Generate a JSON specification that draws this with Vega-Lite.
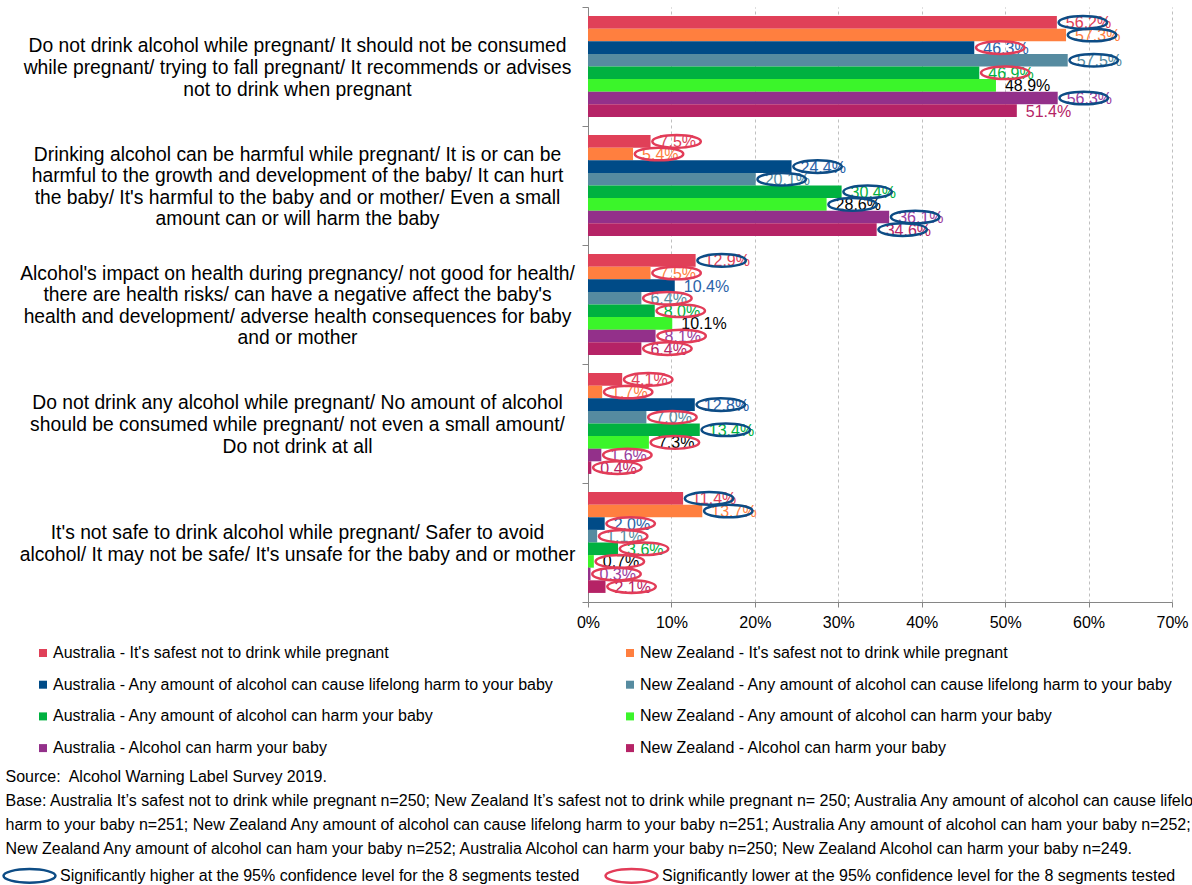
{
  "$schema": "https://vega.github.io/schema/vega-lite/v6.json",
  "width": 584,
  "height": 595,
  "autosize": {"type": "none"},
  "padding": {"left": 588, "top": 7, "right": 20, "bottom": 283},
  "background": "white",
  "config": {"view": {"stroke": null}, "font": "Liberation Sans"},
  "data": {
    "values": [
      {"theme": "Do not drink alcohol while pregnant/ It should not be consumed|while pregnant/ trying to fall pregnant/ It recommends or advises|not to drink when pregnant", "series": "Australia - It's safest not to drink while pregnant", "value": 0.562, "sig": "higher"},
      {"theme": "Do not drink alcohol while pregnant/ It should not be consumed|while pregnant/ trying to fall pregnant/ It recommends or advises|not to drink when pregnant", "series": "New Zealand - It's safest not to drink while pregnant", "value": 0.573, "sig": "higher"},
      {"theme": "Do not drink alcohol while pregnant/ It should not be consumed|while pregnant/ trying to fall pregnant/ It recommends or advises|not to drink when pregnant", "series": "Australia - Any amount of alcohol can cause lifelong harm to your baby", "value": 0.463, "sig": "lower"},
      {"theme": "Do not drink alcohol while pregnant/ It should not be consumed|while pregnant/ trying to fall pregnant/ It recommends or advises|not to drink when pregnant", "series": "New Zealand - Any amount of alcohol can cause lifelong harm to your baby", "value": 0.575, "sig": "higher"},
      {"theme": "Do not drink alcohol while pregnant/ It should not be consumed|while pregnant/ trying to fall pregnant/ It recommends or advises|not to drink when pregnant", "series": "Australia - Any amount of alcohol can harm your baby", "value": 0.469, "sig": "lower"},
      {"theme": "Do not drink alcohol while pregnant/ It should not be consumed|while pregnant/ trying to fall pregnant/ It recommends or advises|not to drink when pregnant", "series": "New Zealand - Any amount of alcohol can harm your baby", "value": 0.489, "sig": "none"},
      {"theme": "Do not drink alcohol while pregnant/ It should not be consumed|while pregnant/ trying to fall pregnant/ It recommends or advises|not to drink when pregnant", "series": "Australia - Alcohol can harm your baby", "value": 0.563, "sig": "higher"},
      {"theme": "Do not drink alcohol while pregnant/ It should not be consumed|while pregnant/ trying to fall pregnant/ It recommends or advises|not to drink when pregnant", "series": "New Zealand - Alcohol can harm your baby", "value": 0.514, "sig": "none"},

      {"theme": "Drinking alcohol can be harmful while pregnant/ It is or can be|harmful to the growth and development of the baby/ It can hurt|the baby/ It's harmful to the baby and or mother/ Even a small|amount can or will harm the baby", "series": "Australia - It's safest not to drink while pregnant", "value": 0.075, "sig": "lower"},
      {"theme": "Drinking alcohol can be harmful while pregnant/ It is or can be|harmful to the growth and development of the baby/ It can hurt|the baby/ It's harmful to the baby and or mother/ Even a small|amount can or will harm the baby", "series": "New Zealand - It's safest not to drink while pregnant", "value": 0.054, "sig": "lower"},
      {"theme": "Drinking alcohol can be harmful while pregnant/ It is or can be|harmful to the growth and development of the baby/ It can hurt|the baby/ It's harmful to the baby and or mother/ Even a small|amount can or will harm the baby", "series": "Australia - Any amount of alcohol can cause lifelong harm to your baby", "value": 0.244, "sig": "higher"},
      {"theme": "Drinking alcohol can be harmful while pregnant/ It is or can be|harmful to the growth and development of the baby/ It can hurt|the baby/ It's harmful to the baby and or mother/ Even a small|amount can or will harm the baby", "series": "New Zealand - Any amount of alcohol can cause lifelong harm to your baby", "value": 0.201, "sig": "higher"},
      {"theme": "Drinking alcohol can be harmful while pregnant/ It is or can be|harmful to the growth and development of the baby/ It can hurt|the baby/ It's harmful to the baby and or mother/ Even a small|amount can or will harm the baby", "series": "Australia - Any amount of alcohol can harm your baby", "value": 0.304, "sig": "higher"},
      {"theme": "Drinking alcohol can be harmful while pregnant/ It is or can be|harmful to the growth and development of the baby/ It can hurt|the baby/ It's harmful to the baby and or mother/ Even a small|amount can or will harm the baby", "series": "New Zealand - Any amount of alcohol can harm your baby", "value": 0.286, "sig": "higher"},
      {"theme": "Drinking alcohol can be harmful while pregnant/ It is or can be|harmful to the growth and development of the baby/ It can hurt|the baby/ It's harmful to the baby and or mother/ Even a small|amount can or will harm the baby", "series": "Australia - Alcohol can harm your baby", "value": 0.361, "sig": "higher"},
      {"theme": "Drinking alcohol can be harmful while pregnant/ It is or can be|harmful to the growth and development of the baby/ It can hurt|the baby/ It's harmful to the baby and or mother/ Even a small|amount can or will harm the baby", "series": "New Zealand - Alcohol can harm your baby", "value": 0.346, "sig": "higher"},

      {"theme": "Alcohol's impact on health during pregnancy/ not good for health/|there are health risks/ can have a negative affect the baby's|health and development/ adverse health consequences for baby|and or mother", "series": "Australia - It's safest not to drink while pregnant", "value": 0.129, "sig": "higher"},
      {"theme": "Alcohol's impact on health during pregnancy/ not good for health/|there are health risks/ can have a negative affect the baby's|health and development/ adverse health consequences for baby|and or mother", "series": "New Zealand - It's safest not to drink while pregnant", "value": 0.075, "sig": "lower"},
      {"theme": "Alcohol's impact on health during pregnancy/ not good for health/|there are health risks/ can have a negative affect the baby's|health and development/ adverse health consequences for baby|and or mother", "series": "Australia - Any amount of alcohol can cause lifelong harm to your baby", "value": 0.104, "sig": "none"},
      {"theme": "Alcohol's impact on health during pregnancy/ not good for health/|there are health risks/ can have a negative affect the baby's|health and development/ adverse health consequences for baby|and or mother", "series": "New Zealand - Any amount of alcohol can cause lifelong harm to your baby", "value": 0.064, "sig": "lower"},
      {"theme": "Alcohol's impact on health during pregnancy/ not good for health/|there are health risks/ can have a negative affect the baby's|health and development/ adverse health consequences for baby|and or mother", "series": "Australia - Any amount of alcohol can harm your baby", "value": 0.080, "sig": "lower"},
      {"theme": "Alcohol's impact on health during pregnancy/ not good for health/|there are health risks/ can have a negative affect the baby's|health and development/ adverse health consequences for baby|and or mother", "series": "New Zealand - Any amount of alcohol can harm your baby", "value": 0.101, "sig": "none"},
      {"theme": "Alcohol's impact on health during pregnancy/ not good for health/|there are health risks/ can have a negative affect the baby's|health and development/ adverse health consequences for baby|and or mother", "series": "Australia - Alcohol can harm your baby", "value": 0.081, "sig": "lower"},
      {"theme": "Alcohol's impact on health during pregnancy/ not good for health/|there are health risks/ can have a negative affect the baby's|health and development/ adverse health consequences for baby|and or mother", "series": "New Zealand - Alcohol can harm your baby", "value": 0.064, "sig": "lower"},

      {"theme": "Do not drink any alcohol while pregnant/ No amount of alcohol|should be consumed while pregnant/ not even a small amount/|Do not drink at all", "series": "Australia - It's safest not to drink while pregnant", "value": 0.041, "sig": "lower"},
      {"theme": "Do not drink any alcohol while pregnant/ No amount of alcohol|should be consumed while pregnant/ not even a small amount/|Do not drink at all", "series": "New Zealand - It's safest not to drink while pregnant", "value": 0.017, "sig": "lower"},
      {"theme": "Do not drink any alcohol while pregnant/ No amount of alcohol|should be consumed while pregnant/ not even a small amount/|Do not drink at all", "series": "Australia - Any amount of alcohol can cause lifelong harm to your baby", "value": 0.128, "sig": "higher"},
      {"theme": "Do not drink any alcohol while pregnant/ No amount of alcohol|should be consumed while pregnant/ not even a small amount/|Do not drink at all", "series": "New Zealand - Any amount of alcohol can cause lifelong harm to your baby", "value": 0.070, "sig": "lower"},
      {"theme": "Do not drink any alcohol while pregnant/ No amount of alcohol|should be consumed while pregnant/ not even a small amount/|Do not drink at all", "series": "Australia - Any amount of alcohol can harm your baby", "value": 0.134, "sig": "higher"},
      {"theme": "Do not drink any alcohol while pregnant/ No amount of alcohol|should be consumed while pregnant/ not even a small amount/|Do not drink at all", "series": "New Zealand - Any amount of alcohol can harm your baby", "value": 0.073, "sig": "lower"},
      {"theme": "Do not drink any alcohol while pregnant/ No amount of alcohol|should be consumed while pregnant/ not even a small amount/|Do not drink at all", "series": "Australia - Alcohol can harm your baby", "value": 0.016, "sig": "lower"},
      {"theme": "Do not drink any alcohol while pregnant/ No amount of alcohol|should be consumed while pregnant/ not even a small amount/|Do not drink at all", "series": "New Zealand - Alcohol can harm your baby", "value": 0.004, "sig": "lower"},

      {"theme": "It's not safe to drink alcohol while pregnant/ Safer to avoid|alcohol/ It may not be safe/ It's unsafe for the baby and or mother", "series": "Australia - It's safest not to drink while pregnant", "value": 0.114, "sig": "higher"},
      {"theme": "It's not safe to drink alcohol while pregnant/ Safer to avoid|alcohol/ It may not be safe/ It's unsafe for the baby and or mother", "series": "New Zealand - It's safest not to drink while pregnant", "value": 0.137, "sig": "higher"},
      {"theme": "It's not safe to drink alcohol while pregnant/ Safer to avoid|alcohol/ It may not be safe/ It's unsafe for the baby and or mother", "series": "Australia - Any amount of alcohol can cause lifelong harm to your baby", "value": 0.020, "sig": "lower"},
      {"theme": "It's not safe to drink alcohol while pregnant/ Safer to avoid|alcohol/ It may not be safe/ It's unsafe for the baby and or mother", "series": "New Zealand - Any amount of alcohol can cause lifelong harm to your baby", "value": 0.011, "sig": "lower"},
      {"theme": "It's not safe to drink alcohol while pregnant/ Safer to avoid|alcohol/ It may not be safe/ It's unsafe for the baby and or mother", "series": "Australia - Any amount of alcohol can harm your baby", "value": 0.036, "sig": "lower"},
      {"theme": "It's not safe to drink alcohol while pregnant/ Safer to avoid|alcohol/ It may not be safe/ It's unsafe for the baby and or mother", "series": "New Zealand - Any amount of alcohol can harm your baby", "value": 0.007, "sig": "lower"},
      {"theme": "It's not safe to drink alcohol while pregnant/ Safer to avoid|alcohol/ It may not be safe/ It's unsafe for the baby and or mother", "series": "Australia - Alcohol can harm your baby", "value": 0.003, "sig": "lower"},
      {"theme": "It's not safe to drink alcohol while pregnant/ Safer to avoid|alcohol/ It may not be safe/ It's unsafe for the baby and or mother", "series": "New Zealand - Alcohol can harm your baby", "value": 0.021, "sig": "lower"}
    ]
  },
  "encoding": {
    "y": {
      "field": "theme",
      "type": "nominal",
      "sort": null,
      "scale": {"paddingInner": 0, "paddingOuter": 0},
      "axis": {
        "title": null,
        "labelExpr": "(!isString(datum.value) || datum.value == 'undefined') ? '' : split(datum.value, '|')",
        "labelAlign": "center",
        "labelBaseline": "middle",
        "labelPadding": 285,
        "labelOffset": {
          "condition": [
            {"test": "isString(datum.value) && length(split(datum.value, '|')) == 2", "value": -9.8},
            {"test": "isString(datum.value) && length(split(datum.value, '|')) == 3", "value": -20.6}
          ],
          "value": -31.4
        },
        "labelFontSize": 19.3,
        "labelLineHeight": 21.6,
        "labelLimit": 700,
        "labelColor": "#000000",
        "tickBand": "extent",
        "tickSize": 6,
        "tickColor": "#868686",
        "domainColor": "#868686",
        "grid": false
      }
    },
    "yOffset": {
      "field": "series",
      "type": "nominal",
      "sort": [
        "Australia - It's safest not to drink while pregnant",
        "New Zealand - It's safest not to drink while pregnant",
        "Australia - Any amount of alcohol can cause lifelong harm to your baby",
        "New Zealand - Any amount of alcohol can cause lifelong harm to your baby",
        "Australia - Any amount of alcohol can harm your baby",
        "New Zealand - Any amount of alcohol can harm your baby",
        "Australia - Alcohol can harm your baby",
        "New Zealand - Alcohol can harm your baby"
      ],
      "scale": {"paddingInner": 0, "paddingOuter": 0.72}
    },
    "x": {
      "field": "value",
      "type": "quantitative",
      "scale": {"domain": [0, 0.7], "nice": false},
      "axis": {
        "title": [
          "Source:\u00a0 Alcohol Warning Label Survey 2019.",
          "Base: Australia It’s safest not to drink while pregnant n=250; New Zealand It’s safest not to drink while pregnant n= 250; Australia Any amount of alcohol can cause lifelong",
          "harm to your baby n=251; New Zealand Any amount of alcohol can cause lifelong harm to your baby n=251; Australia Any amount of alcohol can ham your baby n=252;",
          "New Zealand Any amount of alcohol can ham your baby n=252; Australia Alcohol can harm your baby n=250; New Zealand Alcohol can harm your baby n=249."
        ],
        "titleX": -583,
        "titleY": 166,
        "titleAlign": "left",
        "titleBaseline": "top",
        "titleFontSize": 16,
        "titleFontWeight": "normal",
        "titleLineHeight": 24,
        "titleColor": "#000000",
        "titleLimit": 3000,
        "format": ".0%",
        "values": [0, 0.1, 0.2, 0.3, 0.4, 0.5, 0.6, 0.7],
        "labelFontSize": 16,
        "labelColor": "#000000",
        "labelFlush": false,
        "labelPadding": 7,
        "tickSize": 5,
        "tickColor": "#868686",
        "domainColor": "#868686",
        "grid": true,
        "gridDash": [3, 3],
        "gridColor": "#BFBFBF"
      }
    }
  },
  "layer": [
    {
      "mark": {"type": "bar"},
      "encoding": {
        "color": {
          "field": "series",
          "type": "nominal",
          "scale": {
            "domain": [
              "Australia - It's safest not to drink while pregnant",
              "New Zealand - It's safest not to drink while pregnant",
              "Australia - Any amount of alcohol can cause lifelong harm to your baby",
              "New Zealand - Any amount of alcohol can cause lifelong harm to your baby",
              "Australia - Any amount of alcohol can harm your baby",
              "New Zealand - Any amount of alcohol can harm your baby",
              "Australia - Alcohol can harm your baby",
              "New Zealand - Alcohol can harm your baby"
            ],
            "range": ["#E04058", "#FF7F3F", "#004B87", "#568BA0", "#00B140", "#3BF52A", "#93308A", "#B52366"]
          },
          "legend": {
            "title": null,
            "orient": "none",
            "direction": "horizontal",
            "legendX": -553,
            "legendY": 638,
            "columns": 2,
            "columnPadding": 68,
            "rowPadding": 15.7,
            "padding": 0,
            "symbolType": "square",
            "symbolSize": 64,
            "symbolStrokeWidth": 0,
            "labelFontSize": 16,
            "labelColor": "#000000",
            "labelOffset": 2,
            "labelLimit": 700
          }
        }
      }
    },
    {
      "mark": {"type": "text", "align": "left", "baseline": "middle", "dx": 9, "dy": 1, "fontSize": 16},
      "encoding": {
        "text": {"field": "value", "type": "quantitative", "format": ".1%"},
        "color": {
          "field": "series",
          "type": "nominal",
          "scale": {
            "domain": [
              "Australia - It's safest not to drink while pregnant",
              "New Zealand - It's safest not to drink while pregnant",
              "Australia - Any amount of alcohol can cause lifelong harm to your baby",
              "New Zealand - Any amount of alcohol can cause lifelong harm to your baby",
              "Australia - Any amount of alcohol can harm your baby",
              "New Zealand - Any amount of alcohol can harm your baby",
              "Australia - Alcohol can harm your baby",
              "New Zealand - Alcohol can harm your baby"
            ],
            "range": ["#E04058", "#FF7F3F", "#2A62A8", "#568BA0", "#00B140", "#000000", "#9A3DA0", "#B52366"]
          },
          "legend": null
        }
      }
    },
    {
      "transform": [{"filter": "datum.sig !== 'none'"}],
      "mark": {
        "type": "point",
        "shape": "M-1,0A1,0.26,0,1,0,1,0A1,0.26,0,1,0,-1,0Z",
        "filled": false,
        "size": 2352,
        "strokeWidth": 2.5,
        "opacity": 1,
        "xOffset": 26
      },
      "encoding": {
        "stroke": {
          "field": "sig",
          "type": "nominal",
          "scale": {"domain": ["higher", "lower"], "range": ["#0D4C85", "#E23C58"]},
          "legend": {
            "title": null,
            "orient": "none",
            "direction": "horizontal",
            "legendX": -586,
            "legendY": 841,
            "columns": 2,
            "columnPadding": 20,
            "padding": 0,
            "symbolType": "M-1,0A1,0.26,0,1,0,1,0A1,0.26,0,1,0,-1,0Z",
            "symbolSize": 2704,
            "symbolStrokeWidth": 2.5,
            "symbolFillColor": "transparent",
            "labelFontSize": 16,
            "labelColor": "#000000",
            "labelOffset": 3,
            "labelLimit": 700,
            "labelExpr": "datum.value == 'higher' ? 'Significantly higher at the 95% confidence level for the 8 segments tested' : 'Significantly lower at the 95% confidence level for the 8 segments tested'"
          }
        }
      }
    }
  ],
  "resolve": {"scale": {"color": "independent"}}
}
